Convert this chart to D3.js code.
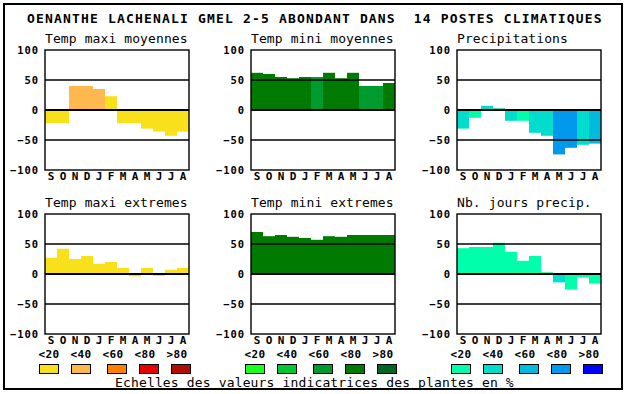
<!DOCTYPE html>
<html><head><meta charset="utf-8">
<script src="https://cdn.jsdelivr.net/npm/d3@7"></script>
<style>
html,body{margin:0;padding:0;background:#fff;}
svg{display:block;}
</style></head>
<body>
<script>
// ---- data ----
const title = "OENANTHE LACHENALI GMEL 2-5 ABONDANT DANS  14 POSTES CLIMATIQUES";
const months = ["S","O","N","D","J","F","M","A","M","J","J","A"];
const tickValues = [100, 50, 0, -50, -100];
const legendLabels = ["<20","<40","<60","<80",">80"];
const legendTitle = "Echelles des valeurs indicatrices des plantes en %";

const yellowScale = ["#F8E11A","#FFB84D","#FF8000","#E60000","#B00F00"];
const greenScale  = ["#1CFF1C","#00C832","#009A2E","#007A00","#006620"];
const blueScale   = ["#00FFAA","#00DDCC","#00BBDD","#0099EE","#0000FF"];

const tempMaxiMoy      = [-22,-22,40,40,35,23,-22,-22,-31,-36,-43,-36];
const tempMaxiMoyClass = [0,0,1,1,1,0,0,0,0,0,0,0];
const tempMiniMoy      = [62,60,55,53,55,55,62,53,62,40,40,45];
const tempMiniMoyClass = [3,3,3,3,3,2,3,3,3,2,2,3];
const precip           = [-31,-13,7,3,-18,-18,-38,-43,-74,-63,-58,-56];
const precipClass      = [1,0,1,1,1,0,1,1,3,3,1,2];
const tempMaxiExt      = [27,42,25,30,17,20,10,-4,10,-3,7,10];
const tempMaxiExtClass = [0,0,0,0,0,0,0,0,0,0,0,0];
const tempMiniExt      = [70,63,65,62,60,57,63,62,65,65,65,65];
const tempMiniExtClass = [3,3,3,3,3,3,3,3,3,3,3,3];
const nbJours          = [43,45,45,52,37,22,30,3,-14,-26,-6,-16];
const nbJoursClass     = [0,0,0,0,0,0,0,0,1,0,0,0];

const panels = [
  {name:"Temp maxi moyennes", values:tempMaxiMoy, cls:tempMaxiMoyClass, scale:yellowScale, col:0, row:0},
  {name:"Temp mini moyennes", values:tempMiniMoy, cls:tempMiniMoyClass, scale:greenScale, col:1, row:0},
  {name:"Precipitations", values:precip, cls:precipClass, scale:blueScale, col:2, row:0},
  {name:"Temp maxi extremes", values:tempMaxiExt, cls:tempMaxiExtClass, scale:yellowScale, col:0, row:1},
  {name:"Temp mini extremes", values:tempMiniExt, cls:tempMiniExtClass, scale:greenScale, col:1, row:1},
  {name:"Nb. jours precip.", values:nbJours, cls:nbJoursClass, scale:blueScale, col:2, row:1}
];
const legendScales = [yellowScale, greenScale, blueScale];

// ---- layout ----
const W = 630, H = 394;
const colX = [45, 251, 457];
const rowY = [50, 214];
const pw = 144, ph = 120;
const mono = "'DejaVu Sans Mono', 'Liberation Mono', monospace";

const svg = d3.select("body").append("svg").attr("width", W).attr("height", H);
svg.append("rect").attr("width", W).attr("height", H).attr("fill", "#fff");
svg.append("rect").attr("x", 4).attr("y", 4).attr("width", 618).attr("height", 385)
  .attr("fill", "none").attr("stroke", "#000").attr("stroke-width", 2);

svg.append("text").attr("x", 27).attr("y", 23)
  .attr("font-family", mono).attr("font-size", 13).attr("font-weight", "bold")
  .attr("letter-spacing", "1.17px").style("white-space", "pre")
  .attr("fill", "#000").text(title);

const x = d3.scaleBand().domain(d3.range(12)).range([0, pw]).padding(0);
const y = d3.scaleLinear().domain([-100, 100]).range([ph, 0]);

panels.forEach(p => {
  const g = svg.append("g").attr("transform", `translate(${colX[p.col]},${rowY[p.row]})`);
  g.append("text").attr("x", 0).attr("y", -7)
    .attr("font-family", mono).attr("font-size", 13).attr("fill", "#000")
    .attr("letter-spacing", "0.1px").style("white-space", "pre").text(p.name);

  g.selectAll("rect.bar").data(p.values).enter().append("rect")
    .attr("class", "bar")
    .attr("x", (d, i) => x(i))
    .attr("width", x.bandwidth())
    .attr("y", d => y(Math.max(0, d)))
    .attr("height", d => Math.abs(y(d) - y(0)))
    .attr("fill", (d, i) => p.scale[p.cls[i]]);

  g.selectAll("line.grid").data([50, 0, -50]).enter().append("line")
    .attr("x1", 0).attr("x2", pw)
    .attr("y1", d => y(d)).attr("y2", d => y(d))
    .attr("stroke", "#000").attr("stroke-width", d => d === 0 ? 1.8 : 1.4);

  g.append("rect").attr("x", 0).attr("y", 0).attr("width", pw).attr("height", ph)
    .attr("fill", "none").attr("stroke", "#000").attr("stroke-width", 1.4);

  const ya = g.append("g").call(d3.axisLeft(y).tickValues(tickValues).tickSize(0).tickPadding(7).tickFormat(d3.format("d")));
  ya.select(".domain").remove();
  ya.selectAll("text").attr("font-family", mono).attr("font-size", 10.5).attr("font-weight", "bold")
    .attr("letter-spacing", "0.9px").attr("fill", "#000").attr("dy", "0.36em").attr("dx", "1px");

  const xa = g.append("g").attr("transform", `translate(0,${ph})`)
    .call(d3.axisBottom(x).tickSize(0).tickPadding(2).tickFormat(i => months[i]));
  xa.select(".domain").remove();
  xa.selectAll("text").attr("font-family", mono).attr("font-size", 11).attr("font-weight", "bold")
    .attr("fill", "#000").attr("dy", "0.71em");
});

// ---- legend ----
const labelOffsets = [4, 36, 68, 100, 132];
const swatchOffsets = [-6, 26, 62, 94, 126];
legendScales.forEach((sc, c) => {
  const g = svg.append("g").attr("transform", `translate(${colX[c]},0)`);
  g.selectAll("text.ll").data(legendLabels).enter().append("text")
    .attr("x", (d, i) => labelOffsets[i]).attr("y", 358)
    .attr("text-anchor", "middle")
    .attr("font-family", mono).attr("font-size", 11).attr("font-weight", "bold")
    .attr("letter-spacing", "0.3px").attr("fill", "#000").text(d => d);
  g.selectAll("rect.sw").data(sc).enter().append("rect")
    .attr("x", (d, i) => swatchOffsets[i] + 0.5).attr("y", 364.5)
    .attr("width", 19).attr("height", 9)
    .attr("fill", d => d).attr("stroke", "#000").attr("stroke-width", 1);
});

svg.append("text").attr("x", 115).attr("y", 387)
  .attr("font-family", mono).attr("font-size", 13).attr("fill", "#000")
  .attr("letter-spacing", "0.15px").style("white-space", "pre").text(legendTitle);
</script>
</body></html>
